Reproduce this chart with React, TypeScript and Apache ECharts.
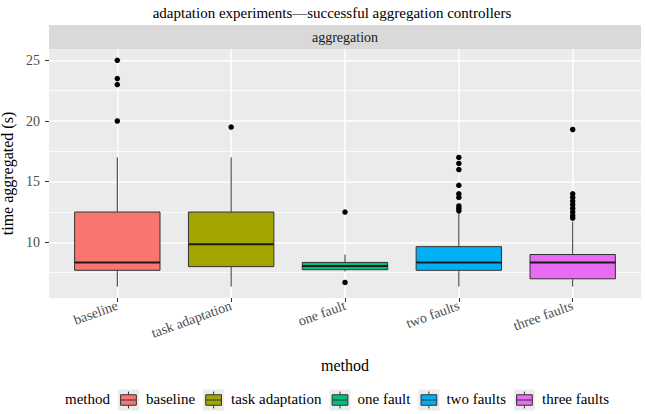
import React, { useEffect, useRef } from 'react';
import * as echarts from 'echarts';

const categories = ['baseline', 'task adaptation', 'one fault', 'two faults', 'three faults'];
const lowerWhisker = [6.35, 6.35, 7.6, 6.35, 6.35];
const q1 = [7.7, 8.0, 7.75, 7.7, 7.0];
const median = [8.35, 9.85, 8.05, 8.35, 8.35];
const q3 = [12.5, 12.5, 8.35, 9.65, 9.0];
const upperWhisker = [17.0, 17.0, 9.0, 12.45, 11.7];
const outliersBaseline = [25, 23.5, 23.0, 20.0];
const outliersTaskAdaptation = [19.5];
const outliersOneFault = [12.5, 6.7];
const outliersTwoFaults = [17.0, 16.5, 16.0, 14.7, 14.0, 13.7, 13.0, 12.8, 12.6];
const outliersThreeFaults = [19.3, 14.0, 13.7, 13.4, 13.1, 12.8, 12.5, 12.2, 12.0];
const fills = ['#F8766D', '#A3A500', '#00BF7D', '#00B0F6', '#E76BF3'];
const yMajorTicks = [10, 15, 20, 25];
const yMinorTicks = [7.5, 12.5, 17.5, 22.5];
const titleText = 'adaptation experiments\u2014successful aggregation controllers';
const stripText = 'aggregation';
const yTitle = 'time aggregated (s)';
const xTitle = 'method';

const FONT = 'Liberation Serif';

export default function App() {
  const ref = useRef<HTMLDivElement>(null);
  useEffect(() => {
    if (!ref.current) return;
    const chart = echarts.init(ref.current, undefined, { renderer: 'svg' });

    const outlierGroups = [outliersBaseline, outliersTaskAdaptation, outliersOneFault, outliersTwoFaults, outliersThreeFaults];
    const allVals = [...lowerWhisker, ...upperWhisker, ...outlierGroups.flat()];
    const dMin = Math.min(...allVals);
    const dMax = Math.max(...allVals);
    const pad = (dMax - dMin) * 0.05;
    const yMin = dMin - pad;
    const yMax = dMax + pad;

    const boxData = categories.map((_, i) => [i, lowerWhisker[i], q1[i], median[i], q3[i], upperWhisker[i]]);
    const outlierData: number[][] = [];
    outlierGroups.forEach((g, i) => g.forEach((v) => outlierData.push([i, v])));

    const gridLeft = 49, gridRight = 5, gridTop = 49, gridBottom = 116;
    const W = 646;
    const panelW = W - gridLeft - gridRight;

    // legend layout (ggplot-style boxplot keys)
    const canvas = document.createElement('canvas');
    const ctx = canvas.getContext('2d')!;
    const legendFontSize = 15;
    ctx.font = `${legendFontSize}px "Liberation Serif"`;
    const measure = (s: string) => ctx.measureText(s).width;
    const keySize = 21;
    const gapTitle = 8, gapKeyLabel = 7, gapItem = 8;
    let total = measure(xTitle) + gapTitle;
    categories.forEach((c, i) => {
      total += keySize + gapKeyLabel + measure(c) + (i < categories.length - 1 ? gapItem : 0);
    });
    const legendCenterX = 337;
    const legendY = 400;
    let lx = legendCenterX - total / 2;
    const legendChildren: any[] = [];
    const txt = (x: number, y: number, text: string, size: number, align: string, fill = '#000') => ({
      type: 'text', x, y,
      style: { text, fontFamily: FONT, fontSize: size, fill, align, verticalAlign: 'middle' },
    });
    legendChildren.push(txt(lx, legendY - 1, xTitle, legendFontSize, 'left'));
    lx += measure(xTitle) + gapTitle;
    categories.forEach((c, i) => {
      const kx = lx, ky = legendY - keySize / 2;
      legendChildren.push({ type: 'rect', shape: { x: kx, y: ky, width: keySize, height: keySize }, style: { fill: '#EBEBEB' } });
      legendChildren.push({ type: 'line', shape: { x1: kx + keySize / 2, y1: ky + keySize * 0.1, x2: kx + keySize / 2, y2: ky + keySize * 0.25 }, style: { stroke: '#333', lineWidth: 1 } });
      legendChildren.push({ type: 'line', shape: { x1: kx + keySize / 2, y1: ky + keySize * 0.75, x2: kx + keySize / 2, y2: ky + keySize * 0.9 }, style: { stroke: '#333', lineWidth: 1 } });
      legendChildren.push({ type: 'rect', shape: { x: kx + keySize * 0.125, y: ky + keySize * 0.25, width: keySize * 0.75, height: keySize * 0.5 }, style: { fill: fills[i], stroke: '#333', lineWidth: 1 } });
      legendChildren.push({ type: 'line', shape: { x1: kx + keySize * 0.125, y1: ky + keySize * 0.5, x2: kx + keySize * 0.875, y2: ky + keySize * 0.5 }, style: { stroke: '#333', lineWidth: 1 } });
      lx += keySize + gapKeyLabel;
      legendChildren.push(txt(lx, legendY - 1, c, legendFontSize, 'left'));
      lx += measure(c) + gapItem;
    });

    const option: any = {
      animation: false,
      backgroundColor: '#FFFFFF',
      textStyle: { fontFamily: FONT },
      grid: {
        left: gridLeft, right: gridRight, top: gridTop, bottom: gridBottom, show: true, backgroundColor: '#EBEBEB', borderWidth: 0,
        containLabel: false, outerBoundsMode: 'none',
      },
      graphic: [
        txt(332, 13, titleText, 15, 'center'),
        { type: 'rect', shape: { x: gridLeft, y: 25, width: panelW, height: 24 }, style: { fill: '#D9D9D9' } },
        txt(gridLeft + panelW / 2, 37, stripText, 14, 'center', '#1A1A1A'),
        { type: 'group', children: legendChildren },
      ],
      xAxis: {
        type: 'value', min: -0.6, max: categories.length - 1 + 0.6,
        name: xTitle, nameLocation: 'middle', nameGap: 59,
        nameTextStyle: { fontSize: 16, color: '#000', fontFamily: FONT },
        axisLine: { show: false, onZero: false },
        axisTick: { show: true, length: 4, lineStyle: { color: '#333', width: 1 }, customValues: categories.map((_, i) => i) },
        axisLabel: {
          customValues: categories.map((_, i) => i), rotate: 20, margin: 7, fontSize: 14, color: '#4D4D4D', fontFamily: FONT,
          formatter: (v: number) => categories[Math.round(v)] ?? '',
        },
        splitLine: { show: true, lineStyle: { color: '#FFFFFF', width: 1.5 } },
      },
      yAxis: [
        {
          type: 'value', min: yMin, max: yMax,
          name: yTitle, nameLocation: 'middle', nameGap: 33, nameRotate: 90,
          nameTextStyle: { fontSize: 16, color: '#000', fontFamily: FONT },
          axisLine: { show: false, onZero: false },
          axisTick: { show: true, length: 4, lineStyle: { color: '#333', width: 1 }, customValues: yMajorTicks },
          axisLabel: { customValues: yMajorTicks, margin: 9, fontSize: 14, color: '#4D4D4D', fontFamily: FONT },
          splitLine: { show: true, lineStyle: { color: '#FFFFFF', width: 1.5 } },
        },
        {
          type: 'value', min: yMin, max: yMax, position: 'right',
          axisLine: { show: false, onZero: false },
          axisTick: { show: false, customValues: yMinorTicks },
          axisLabel: { show: false, customValues: yMinorTicks },
          splitLine: { show: true, lineStyle: { color: '#FFFFFF', width: 0.8 } },
        },
      ],
      series: [
        {
          type: 'custom',
          z: 3,
          encode: { x: 0, y: [1, 2, 3, 4, 5] },
          data: boxData,
          renderItem: (params: any, api: any) => {
            const i = api.value(0);
            const cx = api.coord([i, api.value(3)])[0];
            const yLo = api.coord([i, api.value(1)])[1];
            const yQ1 = api.coord([i, api.value(2)])[1];
            const yMed = api.coord([i, api.value(3)])[1];
            const yQ3 = api.coord([i, api.value(4)])[1];
            const yHi = api.coord([i, api.value(5)])[1];
            const w = api.size([0.75, 0])[0];
            const color = fills[params.dataIndex];
            return {
              type: 'group',
              children: [
                { type: 'line', shape: { x1: cx, y1: yHi, x2: cx, y2: yQ3 }, style: { stroke: '#333', lineWidth: 1 } },
                { type: 'line', shape: { x1: cx, y1: yQ1, x2: cx, y2: yLo }, style: { stroke: '#333', lineWidth: 1 } },
                { type: 'rect', shape: { x: cx - w / 2, y: yQ3, width: w, height: yQ1 - yQ3 }, style: { fill: color, stroke: '#333', lineWidth: 1 } },
                { type: 'line', shape: { x1: cx - w / 2, y1: yMed, x2: cx + w / 2, y2: yMed }, style: { stroke: '#1A1A1A', lineWidth: 2 } },
              ],
            };
          },
        },
        {
          type: 'scatter',
          z: 4,
          data: outlierData,
          symbol: 'circle',
          symbolSize: 5.5,
          itemStyle: { color: '#000', opacity: 1 },
        },
      ],
    };
    chart.setOption(option);
    return () => chart.dispose();
  }, []);
  return <div ref={ref} style={{ position: 'fixed', left: 0, top: 0, width: 646, height: 414 }} />;
}
